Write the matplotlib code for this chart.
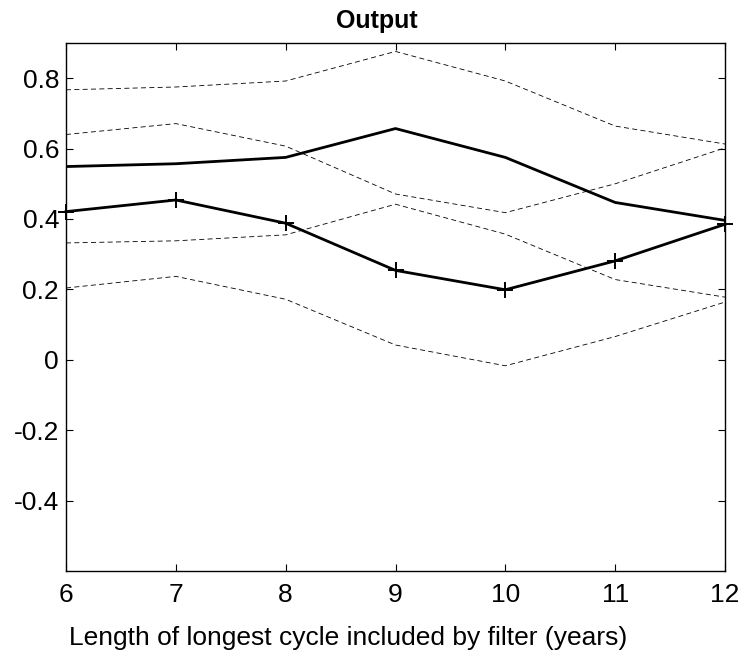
import matplotlib
matplotlib.use("Agg")
import matplotlib.pyplot as plt

# cycle length (years)
cycle_len = [6, 7, 8, 9, 10, 11, 12]

# main estimates
est_plain = [0.549, 0.557, 0.575, 0.657, 0.575, 0.447, 0.396]
est_plus = [0.421, 0.454, 0.388, 0.254, 0.199, 0.281, 0.385]

# confidence bands (dashed)
band1_hi = [0.767, 0.775, 0.792, 0.876, 0.792, 0.664, 0.613]
band1_lo = [0.640, 0.671, 0.607, 0.471, 0.418, 0.500, 0.602]
band2_hi = [0.332, 0.338, 0.355, 0.442, 0.357, 0.228, 0.178]
band2_lo = [0.204, 0.237, 0.172, 0.042, -0.017, 0.066, 0.164]

yticks = [-0.4, -0.2, 0, 0.2, 0.4, 0.6, 0.8]
ytick_labels = ['-0.4', '-0.2', '0', '0.2', '0.4', '0.6', '0.8']

plt.rcParams['font.family'] = ['Liberation Sans', 'DejaVu Sans']

fig = plt.figure(figsize=(7.42, 6.55), dpi=100)
ax = fig.add_axes([66 / 742, 84 / 655, 659 / 742, 528 / 655])

for band in [band1_hi, band1_lo, band2_hi, band2_lo]:
    ax.plot(cycle_len, band, color='black', linestyle=(0, (6, 4)), linewidth=0.6)

ax.plot(cycle_len, est_plain, color='black', linewidth=2.0)
ax.plot(cycle_len, est_plus, color='black', linewidth=2.0, marker='+',
        markersize=11, markeredgewidth=1.4, clip_on=False)

ax.set_xlim(6, 12)
ax.set_ylim(-0.6, 0.9)
ax.set_xticks(cycle_len)
ax.set_yticks(yticks)
ax.set_yticklabels(ytick_labels)
ax.tick_params(direction='in', top=True, right=True, labelsize=19, length=5,
               width=0.8)
ax.tick_params(axis='x', pad=9)
ax.tick_params(axis='y', pad=5)
for s in ax.spines.values():
    s.set_linewidth(1.0)

ax.set_title("Output", fontsize=18, fontweight='bold', pad=11, x=0.471)
ax.set_xlabel("Length of longest cycle included by filter (years)", fontsize=19,
              labelpad=13, x=0.428)

fig.savefig("out.png", dpi=100)
